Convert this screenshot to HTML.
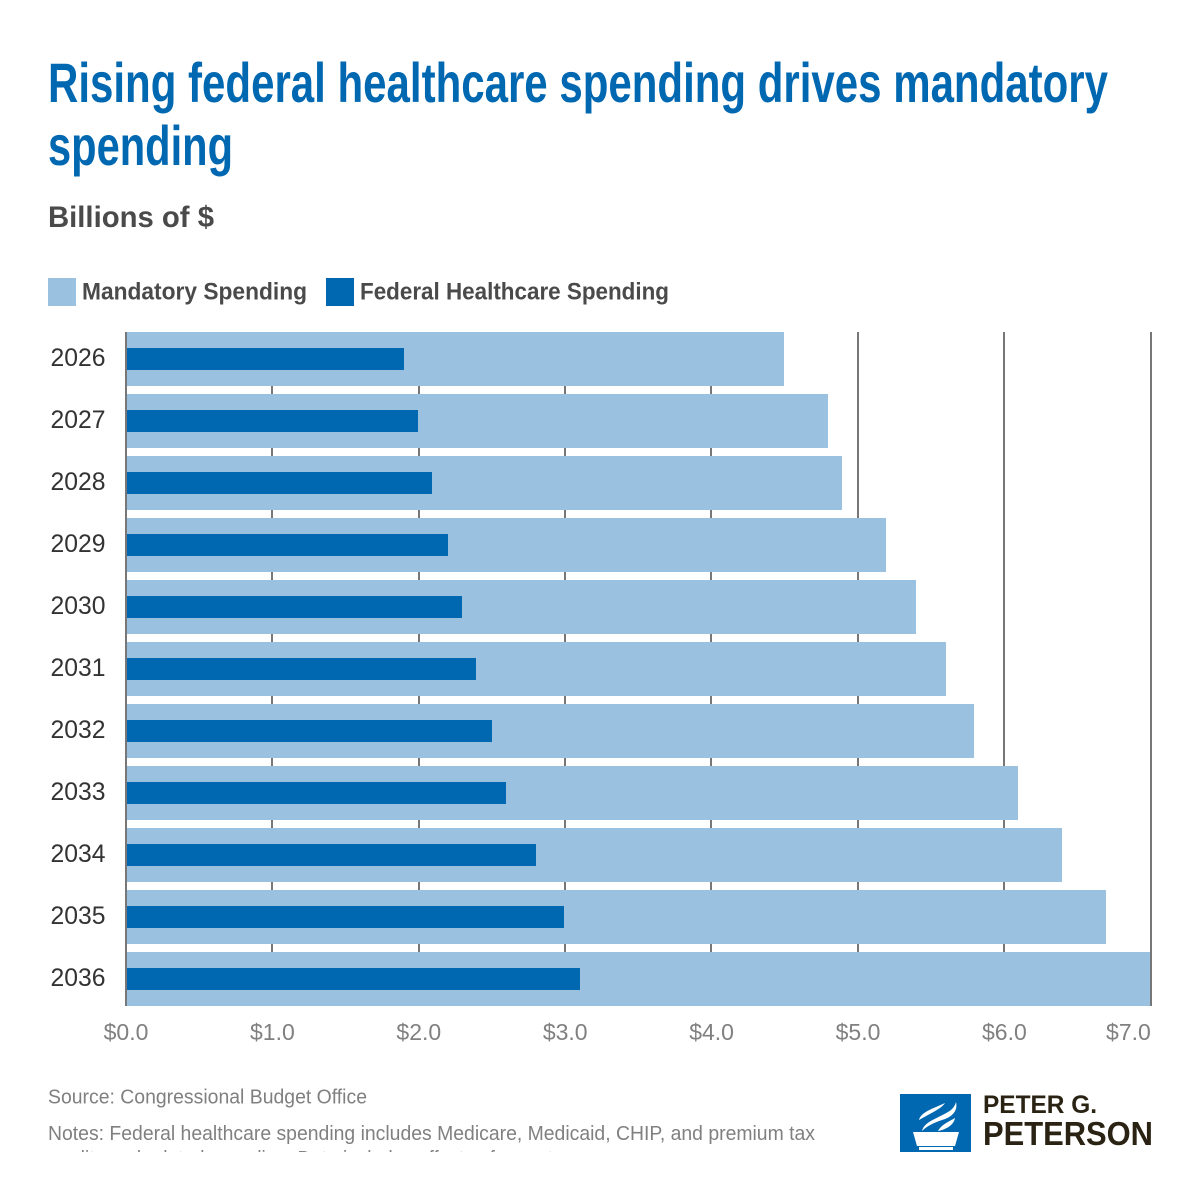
<!DOCTYPE html>
<html lang="en">
<head>
<meta charset="utf-8">
<title>Rising federal healthcare spending drives mandatory spending</title>
<style>
html,body{margin:0;padding:0;background:#fff;width:1200px;height:1200px;overflow:hidden}
svg{display:block}
text{font-family:"Liberation Sans",sans-serif}
</style>
</head>
<body>
<svg id="chart" xmlns="http://www.w3.org/2000/svg" width="1200" height="1200" viewBox="0 0 1200 1200">
  <defs><clipPath id="foot-clip"><rect x="0" y="1080" width="1200" height="72"/></clipPath></defs>
  <rect width="1200" height="1200" fill="#fff"/>

  <text x="48" y="102" font-size="56" font-weight="700" fill="#0068b1" textLength="1060" lengthAdjust="spacingAndGlyphs">Rising federal healthcare spending drives mandatory</text>
  <text x="48" y="165" font-size="56" font-weight="700" fill="#0068b1" textLength="185" lengthAdjust="spacingAndGlyphs">spending</text>
  <text x="48" y="227" font-size="30" font-weight="700" fill="#4a4a4a" textLength="166" lengthAdjust="spacingAndGlyphs">Billions of $</text>

  <g>
    <rect x="48" y="278" width="28" height="28" fill="#9ac1e0"/>
    <text x="82" y="299.5" font-size="24" font-weight="700" fill="#4a4a4a" textLength="225" lengthAdjust="spacingAndGlyphs">Mandatory Spending</text>
    <rect x="326" y="278" width="28" height="28" fill="#0068b1"/>
    <text x="360" y="299.5" font-size="24" font-weight="700" fill="#4a4a4a" textLength="309" lengthAdjust="spacingAndGlyphs">Federal Healthcare Spending</text>
  </g>

  <g id="grid"></g>
  <g id="bars"></g>
  <g id="y-axis"></g>
  <g id="x-axis"></g>

  <text x="48" y="1103.5" font-size="20" fill="#808080" textLength="319" lengthAdjust="spacingAndGlyphs">Source: Congressional Budget Office</text>
  <g clip-path="url(#foot-clip)">
    <text x="48" y="1140" font-size="20" fill="#808080" textLength="767" lengthAdjust="spacingAndGlyphs">Notes: Federal healthcare spending includes Medicare, Medicaid, CHIP, and premium tax</text>
    <text x="48" y="1165" font-size="20" fill="#808080" textLength="505" lengthAdjust="spacingAndGlyphs">credits and related spending. Data includes effects of recent</text>
  </g>

  <g clip-path="url(#foot-clip)">
    <rect x="900" y="1094" width="71" height="58" fill="#0068b1"/>
    <path d="M913 1132h46l-4 14h-38z" fill="#fff"/>
    <rect x="919" y="1147" width="34" height="3" fill="#fff"/>
    <path d="M919 1120C921 1112 932 1109 945 1103C941 1109 931 1113 919 1120Z" fill="#fff"/>
    <path d="M922 1131C924 1122 936 1119 948 1112C952 1110 955 1106 956 1102C958 1110 953 1116 945 1119C936 1122 928 1125 922 1131Z" fill="#fff"/>
    <path d="M938 1131C941 1125 948 1122 955 1118C954 1124 948 1129 938 1131Z" fill="#fff"/>
    <text x="983" y="1113" font-size="25" font-weight="700" fill="#2a2213" textLength="114" lengthAdjust="spacingAndGlyphs">PETER G.</text>
    <text x="983" y="1145" font-size="33" font-weight="700" fill="#2a2213" textLength="170" lengthAdjust="spacingAndGlyphs">PETERSON</text>
  </g>
</svg>
<script>
const years = ['2026','2027','2028','2029','2030','2031','2032','2033','2034','2035','2036'];
const mandatorySpending = [4.5,4.8,4.9,5.2,5.4,5.6,5.8,6.1,6.4,6.7,7.0];
const healthcareSpending = [1.9,2.0,2.1,2.2,2.3,2.4,2.5,2.6,2.8,3.0,3.1];
const xTickValues = [0,1,2,3,4,5,6,7];
const xTickLabels = ['$0.0','$1.0','$2.0','$3.0','$4.0','$5.0','$6.0','$7.0'];

const NS = 'http://www.w3.org/2000/svg';
const plot = {left:126, right:1150.8, top:332, bottom:1006, rowStep:62, rowHeight:54, innerHeight:22, xMax:7};

function xScale(v){
  return plot.left + v * (plot.right - plot.left) / plot.xMax;
}
function barEnd(v){
  return Math.floor((xScale(v) + 0.2) / 2) * 2;
}
function gridLeft(v){
  return Math.floor(xScale(v) - 0.7);
}
function yRow(i){
  return plot.top + i * plot.rowStep;
}
function make(tag, attrs, parent){
  const el = document.createElementNS(NS, tag);
  for (const k in attrs) el.setAttribute(k, attrs[k]);
  parent.appendChild(el);
  return el;
}

const gridG = document.getElementById('grid');
const barsG = document.getElementById('bars');
const yG = document.getElementById('y-axis');
const xG = document.getElementById('x-axis');

xTickValues.forEach(function(v, i){
  const line = make('rect', {x:gridLeft(v), y:plot.top, width:2, height:plot.bottom-plot.top, fill:'#777777'}, gridG);
  
  
  const isLast = i === xTickValues.length - 1;
  const label = make('text', {x:isLast ? plot.right : xScale(v), y:1040, 'font-size':23, fill:'#808080', 'text-anchor': isLast ? 'end' : 'middle'}, xG);
  label.textContent = xTickLabels[i];
  
  
});

years.forEach(function(year, i){
  const top = yRow(i);
  const m = make('rect', {x:plot.left+1, y:top, width:barEnd(mandatorySpending[i])-plot.left-1, height:plot.rowHeight, fill:'#9ac1e0'}, barsG);
  
  
  const h = make('rect', {x:plot.left+1, y:top+(plot.rowHeight-plot.innerHeight)/2, width:barEnd(healthcareSpending[i])-plot.left-1, height:plot.innerHeight, fill:'#0068b1'}, barsG);
  
  
  const label = make('text', {x:50.5, y:top+34, 'font-size':25, fill:'#333', textLength:55, lengthAdjust:'spacingAndGlyphs'}, yG);
  label.textContent = year;
  
  
});
</script>
</body>
</html>
